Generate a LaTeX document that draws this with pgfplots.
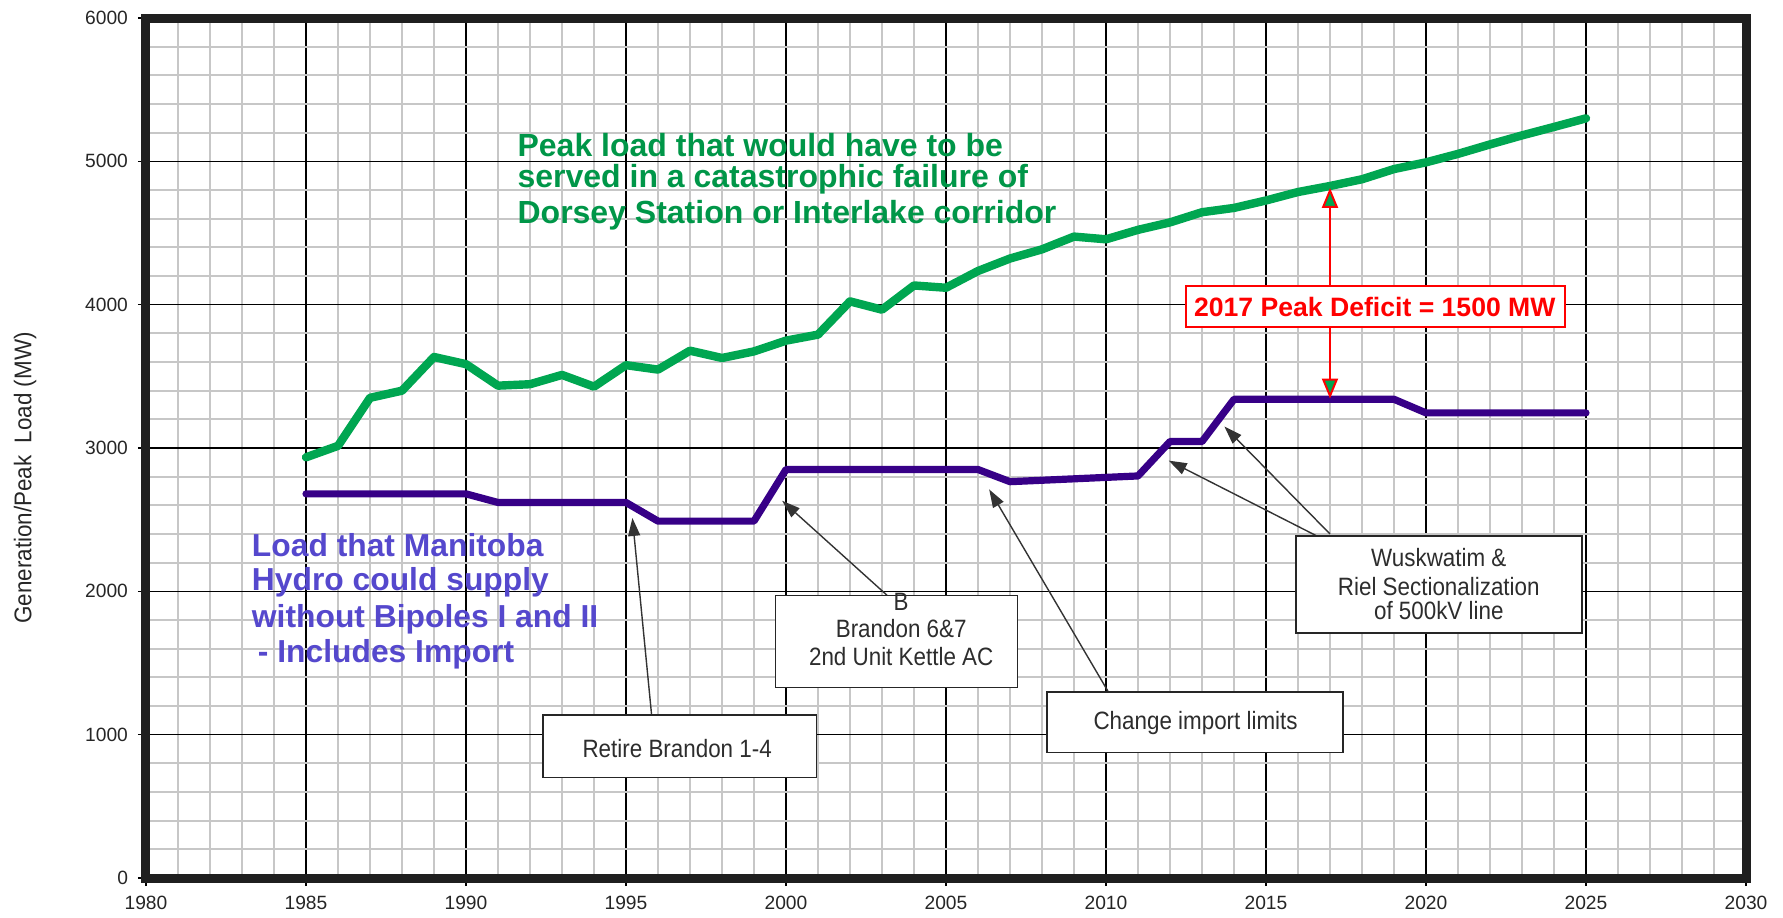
\documentclass[border=0pt]{standalone}
\usepackage{fontspec}
\setmainfont{Liberation Sans}
\usepackage{pgfplots}
\pgfplotsset{compat=1.18}
\usetikzlibrary{arrows.meta}
\definecolor{peakgreen}{RGB}{0,166,81}
\definecolor{txtgreen}{RGB}{0,150,72}
\definecolor{supplypurple}{RGB}{55,0,135}
\definecolor{txtblue}{RGB}{85,72,205}
\definecolor{boxtext}{RGB}{45,45,45}

\pgfplotstableread{
year mw
1985 2935
1986 3015
1987 3350
1988 3400
1989 3635
1990 3585
1991 3435
1992 3445
1993 3510
1994 3428
1995 3578
1996 3547
1997 3679
1998 3628
1999 3674
2000 3749
2001 3791
2002 4023
2003 3965
2004 4134
2005 4118
2006 4235
2007 4322
2008 4386
2009 4475
2010 4456
2011 4522
2012 4574
2013 4645
2014 4675
2015 4727
2016 4786
2017 4828
2018 4875
2019 4946
2020 4993
2021 5052
2022 5118
2023 5181
2024 5240
2025 5300
}\peakload

\pgfplotstableread{
year mw
1985 2680
1990 2680
1991 2620
1995 2620
1996 2490
1999 2490
2000 2850
2006 2850
2007 2765
2011 2805
2012 3045
2013 3045
2014 3340
2019 3340
2020 3245
2025 3245
}\supply

% box text, a little taller than wide as in the original
\newcommand{\bt}[1]{\scalebox{1}[1.12]{#1}}

\begin{document}
\begin{tikzpicture}
\useasboundingbox (-73pt,-19.5pt) rectangle (818.5pt,439pt);
\begin{axis}[
  scale only axis, width=800pt, height=430pt,
  xmin=1980, xmax=2030, ymin=0, ymax=6000,
  xtick={1980,1985,...,2030}, ytick={0,1000,...,6000},
  minor x tick num=4, minor y tick num=4,
  grid=both,
  major grid style={black, line width=0.6pt},
  minor grid style={black!22, line width=0.9pt},
  axis line style={line width=4.5pt, black!88},
  tick pos=left, tick align=outside,
  major tick length=4pt, minor tick length=0pt,
  tick style={black, line width=0.6pt},
  ticklabel style={font=\fontsize{9.6}{11}\selectfont, text=black!85},
  xticklabel style={yshift=-1.5pt},
  yticklabel style={xshift=-1.5pt},
  /pgf/number format/assume math mode=true,
  /pgf/number format/1000 sep={},
  clip=false,
]
\addplot[peakgreen, line width=4.2pt, line join=round, line cap=round] table[x=year, y=mw] {\peakload};
\addplot[supplypurple, line width=3.6pt, line join=round, line cap=round] table[x=year, y=mw] {\supply};

% deficit arrow and box
\draw[red, line width=1pt, {Triangle[length=10pt,width=8pt,fill=peakgreen]}-{Triangle[length=10pt,width=8pt,fill=peakgreen]}]
  (axis cs:2017,3345) -- (axis cs:2017,4815);
\draw[red, line width=1pt, fill=white] (axis cs:2012.5,3843) rectangle (axis cs:2024.33,4127);
\node[text=red, font=\fontsize{13.3}{15}\selectfont\bfseries] at (axis cs:2018.4,3985) {2017 Peak Deficit = 1500 MW};

% callout arrows
\begin{scope}[black!80, line width=0.7pt, -{Triangle[length=9pt,width=6pt]}]
\draw (axis cs:1995.8,1138) -- (axis cs:1995.2,2512);
\draw (axis cs:2003.16,1972) -- (axis cs:1999.88,2632);
\draw (axis cs:2010.08,1296) -- (axis cs:2006.35,2711);
\draw (axis cs:2016.6,2385) -- (axis cs:2011.96,2912);
\draw (axis cs:2017.0,2400) -- (axis cs:2013.7,3150);
\end{scope}

% callout boxes
\begin{scope}[black!85, line width=0.8pt]
\draw[fill=white] (axis cs:1992.4,700) rectangle (axis cs:2000.95,1138);
\draw[fill=white] (axis cs:1999.67,1328) rectangle (axis cs:2007.23,1972);
\draw[fill=white] (axis cs:2008.16,875) rectangle (axis cs:2017.4,1296);
\draw[fill=white] (axis cs:2015.94,1710) rectangle (axis cs:2024.88,2385);
\end{scope}
\begin{scope}[every node/.style={text=boxtext, font=\fontsize{11.2}{13}\selectfont}]
\node at (axis cs:1996.6,906) {\bt{Retire Brandon 1-4}};
\node at (axis cs:2003.6,1926) {\bt{B}};
\node at (axis cs:2003.6,1741) {\bt{Brandon 6\&7}};
\node at (axis cs:2003.6,1545) {\bt{2nd Unit Kettle AC}};
\node at (axis cs:2012.8,1082) {\bt{Change import limits}};
\node at (axis cs:2020.4,2238) {\bt{Wuskwatim \&}};
\node at (axis cs:2020.4,2035) {\bt{Riel Sectionalization}};
\node at (axis cs:2020.4,1868) {\bt{of 500kV line}};
\end{scope}

% series captions
\begin{scope}[every node/.style={anchor=west, inner sep=0pt, text=txtgreen, font=\fontsize{16}{18}\selectfont\bfseries}]
\node at (axis cs:1991.6,5117) {Peak load that would have to be};
\node at (axis cs:1991.6,4872) {served in a catastrophic failure of};
\node at (axis cs:1991.6,4627) {Dorsey Station or Interlake corridor};
\end{scope}
\begin{scope}[every node/.style={anchor=west, inner sep=0pt, text=txtblue, font=\fontsize{15.9}{18}\selectfont\bfseries}]
\node at (axis cs:1983.3,2319) {Load that Manitoba};
\node at (axis cs:1983.3,2060) {Hydro could supply};
\node at (axis cs:1983.3,1808) {without Bipoles I and II};
\node at (axis cs:1983.3,1564) {\hspace{3pt}- Includes Import};
\end{scope}
\end{axis}
\node[rotate=90, text=black!85, font=\fontsize{11.2}{13}\selectfont] at (-60.5pt,200pt) {\scalebox{1}[1.08]{Generation/Peak\ \ Load (MW)}};
\end{tikzpicture}
\end{document}
